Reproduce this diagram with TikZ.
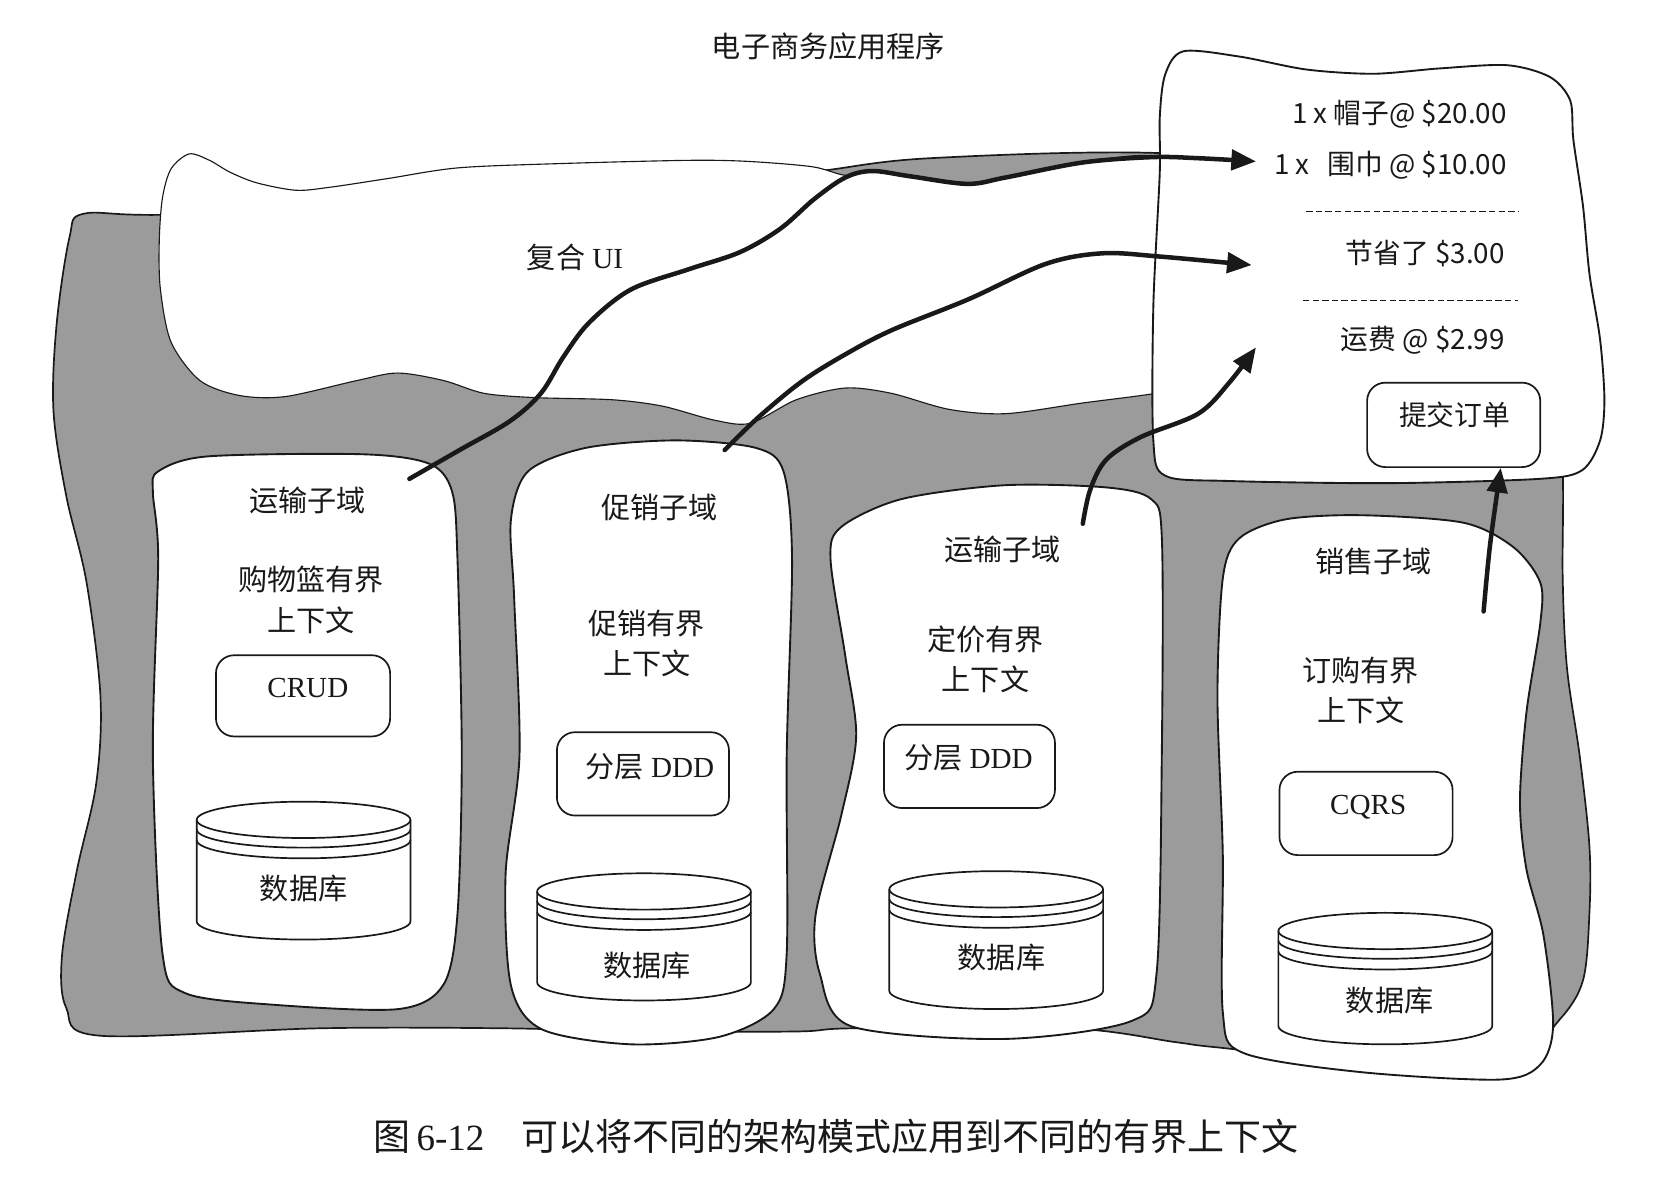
\documentclass[tikz,border=0pt]{standalone}
\usepackage{fontspec}
\setmainfont{Liberation Serif}
\newfontfamily\cjk{Noto Sans CJK SC}
\usetikzlibrary{arrows.meta}
\definecolor{bggray}{RGB}{155,155,155}
\definecolor{ink}{RGB}{25,25,25}
\newcommand\zhs[1]{{\cjk #1}}
\tikzset{
  gblob/.style={fill=bggray, draw=ink, line width=0.9pt},
  wblob/.style={fill=white, draw=ink, line width=1pt},
  cloudblob/.style={fill=white, draw=ink, line width=0.6pt},
  lbl/.style={font=\fontsize{15.5pt}{21.6pt}\selectfont, align=center, inner sep=0pt, text=ink},
  capt/.style={font=\fontsize{19.7pt}{24pt}\selectfont, inner sep=0pt, text=ink},
  rct/.style={font=\cjk\fontsize{14.8pt}{18pt}\selectfont, inner sep=0pt, anchor=east, text=ink},
  tbox/.style={draw=ink, line width=0.9pt, fill=white, rounded corners=0.34cm, inner sep=0pt},
  conn/.style={draw=ink, line width=2.4pt, line cap=round, -{Triangle[length=0.46cm,width=0.38cm]}},
  dashln/.style={draw=ink, line width=0.9pt, dash pattern=on 0.12cm off 0.06cm},
  pics/dbcyl/.style={code={
    \path[fill=white, draw=ink, line width=0.9pt] (-100,17) -- (-100,#1-17)
      .. controls (-100,#1-7.6) and (-55.2,#1) .. (0,#1)
      .. controls (55.2,#1) and (100,#1-7.6) .. (100,#1-17) -- (100,17)
      .. controls (100,7.6) and (55.2,0) .. (0,0)
      .. controls (-55.2,0) and (-100,7.6) .. (-100,17) -- cycle;
    \foreach \dd in {0,9,19}{
      \draw[draw=ink, line width=0.9pt] (-100,17+\dd) .. controls (-100,26.4+\dd) and (-55.2,34+\dd) .. (0,34+\dd)
        .. controls (55.2,34+\dd) and (100,26.4+\dd) .. (100,17+\dd);
    }
  }}
}
\begin{document}
\begin{tikzpicture}[x=0.02cm,y=-0.02cm]
\fill[white] (0,0) rectangle (1568,1113);
\useasboundingbox (0,0) rectangle (1568,1113);

% gray background region
\draw[gblob] plot[smooth cycle, tension=0.55] coordinates {
 (78,200) (150,201) (400,196) (600,182) (700,170) (775,159) (870,148) (1078,143) (1300,160) (1455,300)
 (1462,437) (1462,541) (1466,625) (1478,708) (1487,792) (1487,854) (1481,917) (1459,954)
 (1420,985) (1300,995) (1140,980) (1100,975) (1000,962) (800,962) (745,965) (600,965)
 (470,962) (300,962) (94,969) (62,943) (58,894) (72,814) (90,733) (94,652) (81,545)
 (62,464) (50,384) (53,303) (65,222)};

% composite UI cloud
\draw[cloudblob] plot[smooth cycle, tension=0.5] coordinates {
 (187,356) (160,320) (150,270) (149,225) (152,185) (160,158) (177,144) (196,150)
 (215,161) (240,171) (277,178) (310,175) (363,167) (429,157) (525,153) (644,150)
 (700,151) (760,156) (791,164) (816,160) (852,165) (905,172) (941,166) (1013,152)
 (1085,148) (1110,200) (1110,360) (1081,368) (1013,377) (941,387) (888,383) (834,368)
 (791,363) (745,374) (702,396) (668,393) (620,380) (573,374) (501,372) (453,368)
 (415,356) (372,349) (334,356) (267,371) (224,370)};

% receipt panel
\draw[wblob] plot[smooth cycle, tension=0.5] coordinates {
 (1085,110) (1090,70) (1107,48) (1160,53) (1222,65) (1285,69) (1347,64) (1410,61)
 (1450,72) (1469,94) (1472,131) (1481,193) (1487,256) (1497,318) (1501,374) (1497,412)
 (1480,440) (1440,448) (1300,452) (1150,450) (1090,445) (1079,412) (1079,287) (1085,162)};

% columns
\draw[wblob] plot[smooth cycle, tension=0.5] coordinates {
 (148,441) (194,427) (340,425) (402,434) (423,460) (428,523) (432,707) (428,855)
 (415,921) (373,944) (256,940) (173,929) (152,892) (143,707) (148,523) (143,460)};
\draw[wblob] plot[smooth cycle, tension=0.5] coordinates {
 (494,441) (548,419) (632,412) (707,419) (733,441) (741,523) (736,707) (736,892)
 (724,944) (673,970) (590,977) (507,963) (478,922) (473,818) (486,707) (481,559) (478,486)};
\draw[wblob] plot[smooth cycle, tension=0.5] coordinates {
 (787,493) (843,467) (939,454) (1035,456) (1077,467) (1087,504) (1087,700) (1082,911)
 (1059,955) (939,972) (796,960) (767,911) (763,856) (787,763) (801,689) (791,615) (777,523)};
\draw[wblob] plot[smooth cycle, tension=0.5] coordinates {
 (1159,504) (1202,486) (1273,482) (1369,489) (1416,512) (1441,545) (1441,583) (1428,667)
 (1422,750) (1428,813) (1444,875) (1453,959) (1441,996) (1403,1010) (1273,1003)
 (1163,985) (1144,947) (1144,800) (1139,652) (1144,541)};

% title
\node[lbl] (title) at (775,43) {\zhs{电子商务应用程序}};
\node[lbl] (ui) at (538,241) {\zhs{复合} UI};

% column 1
\node[lbl] (sd1) at (288,468) {\zhs{运输子域}};
\node[lbl] (bc1) at (291,561) {\zhs{购物篮有界}\\\zhs{上下文}};
\node[tbox, minimum width=3.26cm, minimum height=1.52cm] (p1box) at (283.5,651) {};
\node[lbl] (p1) at (288,644) {CRUD};
\pic (db1) at (284,750) {dbcyl=129};
\node[lbl] (db1t) at (284,831) {\zhs{数据库}};

% column 2
\node[lbl] (sd2) at (617,475) {\zhs{促销子域}};
\node[lbl] (bc2) at (605,602) {\zhs{促销有界}\\\zhs{上下文}};
\node[tbox, minimum width=3.22cm, minimum height=1.56cm] (p2box) at (601.5,724) {};
\node[lbl] (p2) at (608,717) {\zhs{分层} DDD};
\pic (db2) at (602.5,817) {dbcyl=119};
\node[lbl] (db2t) at (605,903) {\zhs{数据库}};

% column 3
\node[lbl] (sd3) at (938,514) {\zhs{运输子域}};
\node[lbl] (bc3) at (922,617) {\zhs{定价有界}\\\zhs{上下文}};
\node[tbox, minimum width=3.2cm, minimum height=1.56cm] (p3box) at (907,717) {};
\node[lbl] (p3) at (906,709) {\zhs{分层} DDD};
\pic (db3) at (932,815) {dbcyl=129};
\node[lbl] (db3t) at (937,896) {\zhs{数据库}};

% column 4
\node[lbl] (sd4) at (1285,525) {\zhs{销售子域}};
\node[lbl] (bc4) at (1273,646) {\zhs{订购有界}\\\zhs{上下文}};
\node[tbox, minimum width=3.24cm, minimum height=1.56cm] (p4box) at (1278,761) {};
\node[lbl] (p4) at (1280,755) {CQRS};
\pic (db4) at (1296,854) {dbcyl=123};
\node[lbl] (db4t) at (1300,936) {\zhs{数据库}};

% receipt content
\node[rct] (r1) at (1410,107) {1 x 帽子@ \$20.00};
\node[rct] (r2) at (1410,155) {1 x\hspace{0.22cm} 围巾 @ \$10.00};
\coordinate (d1a) at (1222,198); \coordinate (d1b) at (1420,198);
\draw[dashln] (d1a) -- (d1b);
\node[rct] (r3) at (1408,237) {节省了 \$3.00};
\coordinate (d2a) at (1219,281); \coordinate (d2b) at (1420,281);
\draw[dashln] (d2a) -- (d2b);
\node[rct] (r4) at (1408,318) {运费 @ \$2.99};
\node[tbox, minimum width=3.24cm, minimum height=1.58cm] (btn) at (1360,397.5) {};
\node[rct, anchor=center] (btnt) at (1361,388) {提交订单};

% connectors
\coordinate (a1s) at (383,448); \coordinate (a1e) at (1175,151);
\coordinate (a2s) at (678,421); \coordinate (a2e) at (1171,248);
\coordinate (a3s) at (1013,490); \coordinate (a3e) at (1175,325);
\coordinate (a4s) at (1388,572); \coordinate (a4e) at (btn.south -| 1404,0);
\draw[conn] plot[smooth, tension=0.55] coordinates {(a1s) (430,421) (477,394) (506,368)
 (527,334) (551,302) (590,271) (644,252) (692,236) (730,214) (762,186) (791,166)
 (816,160) (852,165) (905,172) (941,166) (1013,152) (1078,147) (1121,148) (a1e)};
\draw[conn] plot[smooth, tension=0.55] coordinates {(a2s) (710,390) (750,357) (790,332)
 (834,309) (906,280) (978,247) (1031,237) (1085,240) (a2e)};
\draw[conn] plot[smooth, tension=0.55] coordinates {(a3s) (1020,458) (1035,430) (1067,409)
 (1121,387) (1150,358) (a3e)};
\draw[conn] plot[smooth, tension=0.55] coordinates {(a4s) (1394,510) (a4e)};

% caption
\node[capt] (cap) at (782,1063) {\zhs{图}\,6-12\quad\zhs{可以将不同的架构模式应用到不同的有界上下文}};
\end{tikzpicture}
\end{document}
